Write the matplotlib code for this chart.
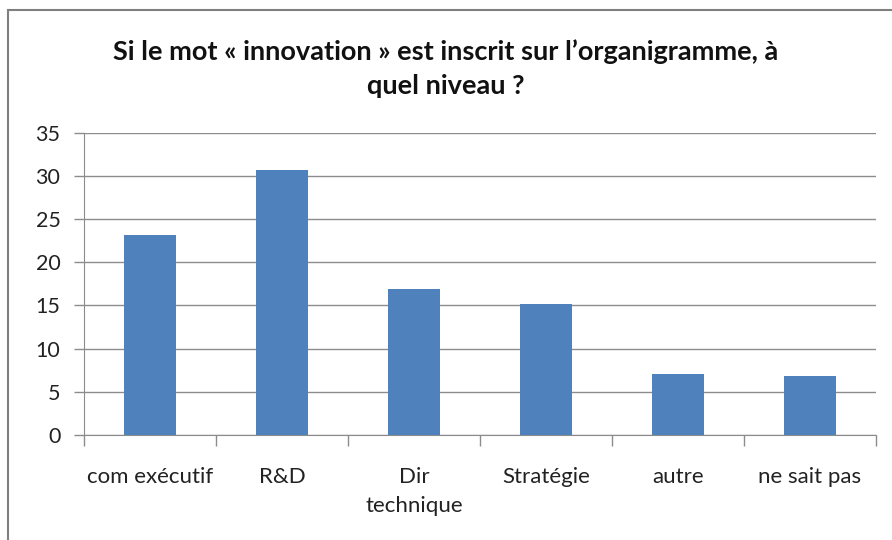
import matplotlib.pyplot as plt
from matplotlib.patches import Rectangle
import numpy as np

categories = ["com exécutif", "R&D", "Dir\ntechnique", "Stratégie", "autre", "ne sait pas"]
values = [23.2, 30.7, 16.9, 15.2, 7.1, 6.8]
yticks = [0, 5, 10, 15, 20, 25, 30, 35]

plt.rcParams['font.family'] = ['Lato', 'DejaVu Sans']

fig = plt.figure(figsize=(8.92, 5.4), dpi=100)
# chart frame (cropped on right and bottom)
fig.patches.append(Rectangle((8 / 892, -0.1), 1.2, 1 - 10 / 540 + 0.1, transform=fig.transFigure,
                             fill=False, edgecolor='#7f7f7f', linewidth=1.5))

ax = fig.add_axes([84 / 892, 1 - 435 / 540, (876 - 84) / 892, (435 - 132.7) / 540])
x = np.arange(len(categories))
ax.bar(x, values, width=0.4, color='#4F81BD', zorder=3)

ax.set_ylim(0, 35)
ax.set_xlim(-0.5, len(categories) - 0.5)
ax.set_yticks(yticks)
ax.yaxis.grid(True, color='#8c8c8c', linewidth=1, zorder=0)

ax.set_xticks(np.arange(len(categories) + 1) - 0.5)
ax.set_xticklabels([])
ax.set_xticks(x, minor=True)
ax.set_xticklabels(categories, minor=True, fontsize=16, color='#222222', linespacing=1.55, va='top')
ax.tick_params(axis='x', which='major', length=8, color='#8c8c8c', width=1)
ax.tick_params(axis='x', which='minor', length=0, pad=23)
ax.tick_params(axis='y', length=7, color='#8c8c8c', width=1, labelsize=15.5, pad=10, labelcolor='#222222')

for s in ['top', 'right']:
    ax.spines[s].set_visible(False)
for s in ['left', 'bottom']:
    ax.spines[s].set_color('#8c8c8c')

fig.text(0.5, 1 - 52 / 540, "Si le mot « innovation » est inscrit sur l’organigramme, à",
         ha='center', va='center', fontsize=19.5, fontweight='bold', color='#111111')
fig.text(0.5, 1 - 86 / 540, "quel niveau ?",
         ha='center', va='center', fontsize=19.5, fontweight='bold', color='#111111')

fig.savefig('out.png', dpi=100)
